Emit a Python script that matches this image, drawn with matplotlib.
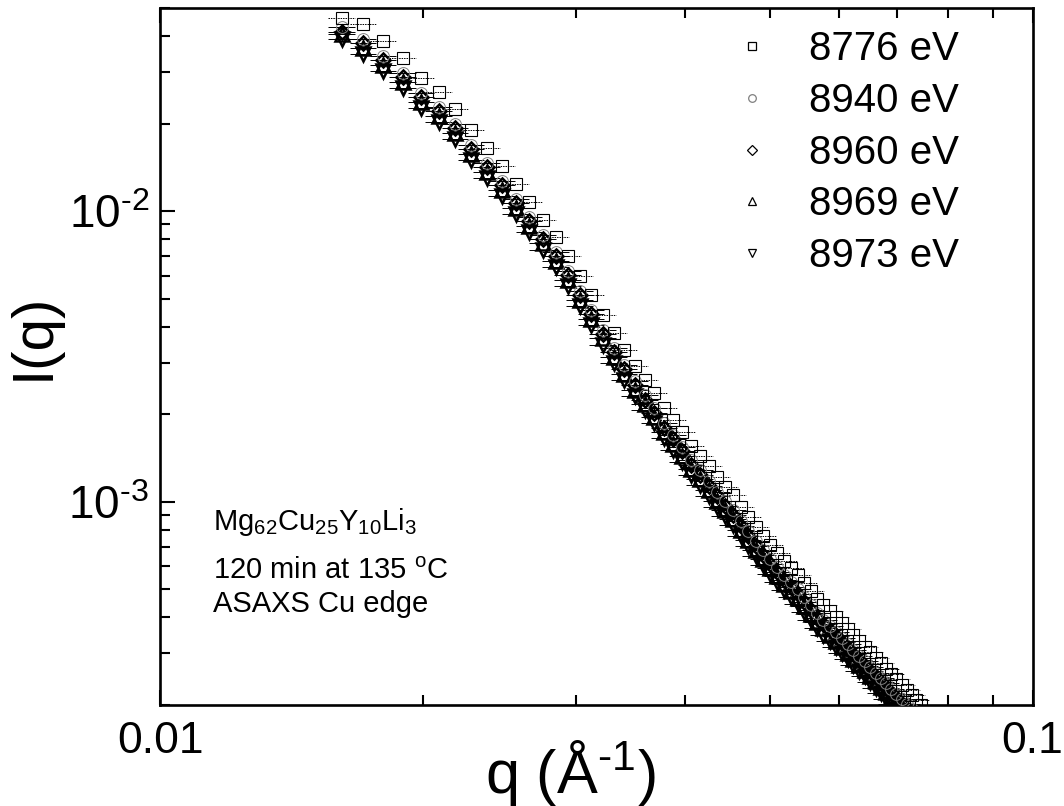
import matplotlib
matplotlib.use("Agg")
import matplotlib.pyplot as plt
from matplotlib.lines import Line2D
from matplotlib.ticker import FixedLocator, FixedFormatter, NullFormatter

plt.rcParams['font.family'] = ['Liberation Sans', 'DejaVu Sans']
plt.rcParams['mathtext.fontset'] = 'custom'
plt.rcParams['mathtext.rm'] = 'Liberation Sans'
plt.rcParams['mathtext.it'] = 'Liberation Sans'
plt.rcParams['axes.unicode_minus'] = False

# scattering vector q (1/Angstrom), common to all energies
q = [0.01615, 0.01709, 0.01803, 0.01898, 0.01992, 0.02086, 0.02180, 0.02274,
     0.02369, 0.02463, 0.02557, 0.02651, 0.02745, 0.02840, 0.02934, 0.03028,
     0.03122, 0.03216, 0.03311, 0.03405, 0.03499, 0.03593, 0.03687, 0.03782,
     0.03876, 0.03970, 0.04064, 0.04158, 0.04253, 0.04347, 0.04441, 0.04535,
     0.04629, 0.04724, 0.04818, 0.04912, 0.05006, 0.05100, 0.05195, 0.05289,
     0.05383, 0.05477, 0.05571, 0.05666, 0.05760, 0.05854, 0.05948, 0.06042,
     0.06137, 0.06231, 0.06325, 0.06419, 0.06513, 0.06608, 0.06702, 0.06796,
     0.06890, 0.06984, 0.07079, 0.07173, 0.07267, 0.07361, 0.07455]

# relative q resolution used for the horizontal error bars
dq_rel = 0.035

I_8776 = [0.04612, 0.04397, 0.03843, 0.03357, 0.02865, 0.02564, 0.02240, 0.01897,
          0.01644, 0.01426, 0.01236, 0.01072, 0.009326, 0.008138, 0.006982, 0.005959,
          0.005125, 0.004390, 0.003790, 0.003313, 0.002917, 0.002611, 0.002355, 0.002091,
          0.001901, 0.001729, 0.001559, 0.001440, 0.001320, 0.001210, 0.001126, 0.001049,
          0.0009612, 0.0008878, 0.0008201, 0.0007636, 0.0007110, 0.0006675, 0.0006262, 0.0005924,
          0.0005603, 0.0005260, 0.0004938, 0.0004634, 0.0004408, 0.0004193, 0.0003994, 0.0003805,
          0.0003629, 0.0003462, 0.0003309, 0.0003164, 0.0003023, 0.0002894, 0.0002771, 0.0002655,
          0.0002546, 0.0002443, 0.0002344, 0.0002251, 0.0002163, 0.0002079, 0.0002000]

I_8940 = [0.04289, 0.03913, 0.03420, 0.02988, 0.02550, 0.02282, 0.01994, 0.01688,
          0.01463, 0.01269, 0.01100, 0.009541, 0.008300, 0.007243, 0.006214, 0.005304,
          0.004561, 0.003907, 0.003373, 0.002949, 0.002596, 0.002324, 0.002096, 0.001861,
          0.001692, 0.001539, 0.001388, 0.001282, 0.001175, 0.001077, 0.001002, 0.0009336,
          0.0008555, 0.0007901, 0.0007299, 0.0006796, 0.0006328, 0.0005941, 0.0005573, 0.0005272,
          0.0004987, 0.0004681, 0.0004395, 0.0004124, 0.0003923, 0.0003732, 0.0003555, 0.0003386,
          0.0003230, 0.0003081, 0.0002945, 0.0002816, 0.0002690, 0.0002576, 0.0002466, 0.0002363,
          0.0002266, 0.0002174, 0.0002086, 0.0002003, 0.0001925, 0.0001850, 0.0001780]

I_8960 = [0.04151, 0.03781, 0.03305, 0.02887, 0.02464, 0.02205, 0.01926, 0.01631,
          0.01414, 0.01226, 0.01063, 0.009219, 0.008020, 0.006999, 0.006005, 0.005125,
          0.004408, 0.003775, 0.003259, 0.002849, 0.002509, 0.002245, 0.002025, 0.001798,
          0.001635, 0.001487, 0.001341, 0.001238, 0.001135, 0.001041, 0.0009684, 0.0009021,
          0.0008266, 0.0007635, 0.0007053, 0.0006567, 0.0006115, 0.0005741, 0.0005385, 0.0005095,
          0.0004819, 0.0004524, 0.0004247, 0.0003985, 0.0003791, 0.0003606, 0.0003435, 0.0003272,
          0.0003121, 0.0002977, 0.0002846, 0.0002721, 0.0002600, 0.0002489, 0.0002383, 0.0002283,
          0.0002190, 0.0002101, 0.0002016, 0.0001936, 0.0001860, 0.0001788, 0.0001720]

I_8969 = [0.04059, 0.03650, 0.03190, 0.02786, 0.02378, 0.02128, 0.01859, 0.01575,
          0.01365, 0.01184, 0.01026, 0.008898, 0.007741, 0.006755, 0.005795, 0.004946,
          0.004254, 0.003644, 0.003146, 0.002750, 0.002421, 0.002167, 0.001955, 0.001736,
          0.001578, 0.001435, 0.001294, 0.001195, 0.001096, 0.001004, 0.0009346, 0.0008707,
          0.0007978, 0.0007369, 0.0006807, 0.0006338, 0.0005901, 0.0005540, 0.0005197, 0.0004917,
          0.0004650, 0.0004366, 0.0004099, 0.0003846, 0.0003659, 0.0003480, 0.0003315, 0.0003158,
          0.0003012, 0.0002873, 0.0002746, 0.0002626, 0.0002509, 0.0002402, 0.0002300, 0.0002204,
          0.0002113, 0.0002028, 0.0001946, 0.0001868, 0.0001795, 0.0001726, 0.0001660]

I_8973 = [0.03920, 0.03474, 0.03036, 0.02652, 0.02263, 0.02026, 0.01770, 0.01499,
          0.01299, 0.01127, 0.009764, 0.008469, 0.007368, 0.006429, 0.005516, 0.004708,
          0.004049, 0.003468, 0.002994, 0.002617, 0.002304, 0.002063, 0.001860, 0.001652,
          0.001502, 0.001366, 0.001232, 0.001138, 0.001043, 0.0009559, 0.0008895, 0.0008287,
          0.0007593, 0.0007014, 0.0006479, 0.0006032, 0.0005617, 0.0005273, 0.0004947, 0.0004680,
          0.0004426, 0.0004155, 0.0003901, 0.0003661, 0.0003482, 0.0003312, 0.0003155, 0.0003006,
          0.0002867, 0.0002735, 0.0002614, 0.0002500, 0.0002388, 0.0002286, 0.0002189, 0.0002097,
          0.0002011, 0.0001930, 0.0001852, 0.0001778, 0.0001709, 0.0001642, 0.0001580]

labels = ['8776 eV', '8940 eV', '8960 eV', '8969 eV', '8973 eV']
series = [I_8776, I_8940, I_8960, I_8969, I_8973]
markers = ['s', 'o', 'D', '^', 'v']
sizes = [8.0, 8.5, 7.5, 9.5, 9.5]
edge_colors = ['black', '0.5', 'black', 'black', 'black']
edge_widths = [0.8, 0.7, 1.8, 1.8, 1.8]
bar_styles = [(0, (1.5, 1.0)), '-', '-', '-', '-']

fig = plt.figure(figsize=(10.64, 8.06), dpi=100)
ax = fig.add_axes([0.1504, 0.1259, 0.8200, 0.8641])
ax.set_xscale('log')
ax.set_yscale('log')

xerr = [dq_rel * v for v in q]
order = [4, 3, 2, 1, 0]
for k in order:
    eb = ax.errorbar(q, series[k], xerr=xerr, fmt='none', ecolor='black',
                     elinewidth=0.7, capsize=0, zorder=2)
    eb[2][0].set_linestyle(bar_styles[k])
for k in order:
    ax.plot(q, series[k], linestyle='none', marker=markers[k], ms=sizes[k],
            mfc='none', mec=edge_colors[k], mew=edge_widths[k], zorder=3)

ax.set_xlim(0.01, 0.1)
ax.set_ylim(2e-4, 5e-2)

# ticks
ax.xaxis.set_major_locator(FixedLocator([0.01, 0.1]))
ax.xaxis.set_major_formatter(FixedFormatter(['0.01', '0.1']))
ax.xaxis.set_minor_locator(FixedLocator([0.02, 0.03, 0.04, 0.05, 0.06, 0.07, 0.08, 0.09]))
ax.xaxis.set_minor_formatter(NullFormatter())
ax.yaxis.set_major_locator(FixedLocator([1e-3, 1e-2]))
ax.yaxis.set_major_formatter(FixedFormatter([r'$\mathregular{10^{‐3}}$', r'$\mathregular{10^{‐2}}$']))
ax.yaxis.set_minor_locator(FixedLocator([m * 1e-4 for m in range(2, 10)] +
                                        [m * 1e-3 for m in range(2, 10)] +
                                        [m * 1e-2 for m in range(2, 6)]))
ax.yaxis.set_minor_formatter(NullFormatter())

ax.tick_params(which='both', direction='in', top=True, right=False,
               width=1.5, colors='black')
ax.tick_params(which='major', length=11)
ax.tick_params(which='minor', length=7)
ax.tick_params(axis='x', which='major', pad=12, labelsize=32)
ax.tick_params(axis='y', which='major', pad=8, labelsize=33)
for s in ax.spines.values():
    s.set_linewidth(1.9)

ax.set_xlabel(r'q ($\mathregular{\AA^{‐1}}$)', fontsize=44)
ax.xaxis.set_label_coords(0.47, -0.048)
ax.set_ylabel('I(q)', fontsize=42)
ax.yaxis.set_label_coords(-0.114, 0.528)

handles = [Line2D([], [], linestyle='none', marker=markers[k], ms=5.5, mfc='none',
                  mec=edge_colors[k], mew=0.9) for k in range(5)]
ax.legend(handles, labels, loc='upper left', bbox_to_anchor=(0.6556, 0.968),
          frameon=False, fontsize=29, handlelength=1.0, handletextpad=0.9,
          labelspacing=0.34, borderpad=0, borderaxespad=0)

ax.text(0.0607, 0.250, r'$\mathregular{Mg_{62}Cu_{25}Y_{10}Li_{3}}$', transform=ax.transAxes,
        fontsize=21, va='baseline')
ax.text(0.0607, 0.180, r'120 min at 135 $\mathregular{^{o}}$C', transform=ax.transAxes,
        fontsize=21, va='baseline')
ax.text(0.0607, 0.133, 'ASAXS Cu edge', transform=ax.transAxes,
        fontsize=21, va='baseline')

fig.savefig('out.png', dpi=100)
